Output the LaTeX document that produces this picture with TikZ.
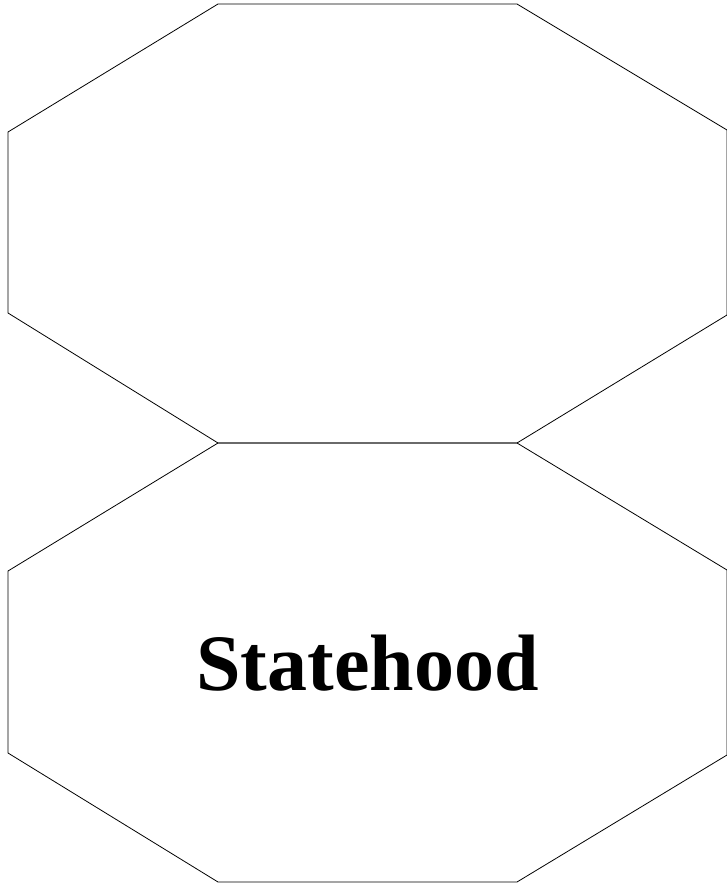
\documentclass[tikz,border=0pt]{standalone}
\usepackage{fontspec}
\setmainfont{Liberation Serif}
\begin{document}
\begin{tikzpicture}[x=1pt,y=-1pt,
  octo/.style={draw=black,line width=0.8pt,line join=miter},
  label/.style={font=\fontsize{80}{96}\selectfont\bfseries,inner sep=0pt,anchor=base}]
\useasboundingbox (0,0) rectangle (726,885);
\fill[white] (0,0) rectangle (726,885);
% top octagon
\draw[octo] (218,4) -- (517,4) -- (727,130) -- (727,315) -- (517,443) -- (218,443) -- (8,313) -- (8,132) -- cycle;
% bottom octagon
\draw[octo] (218,443) -- (517,443) -- (727,570) -- (727,755) -- (517,882) -- (218,882) -- (8,753) -- (8,571) -- cycle;
\node[label] (state) at (367.5,690) {Statehood};
\end{tikzpicture}
\end{document}
